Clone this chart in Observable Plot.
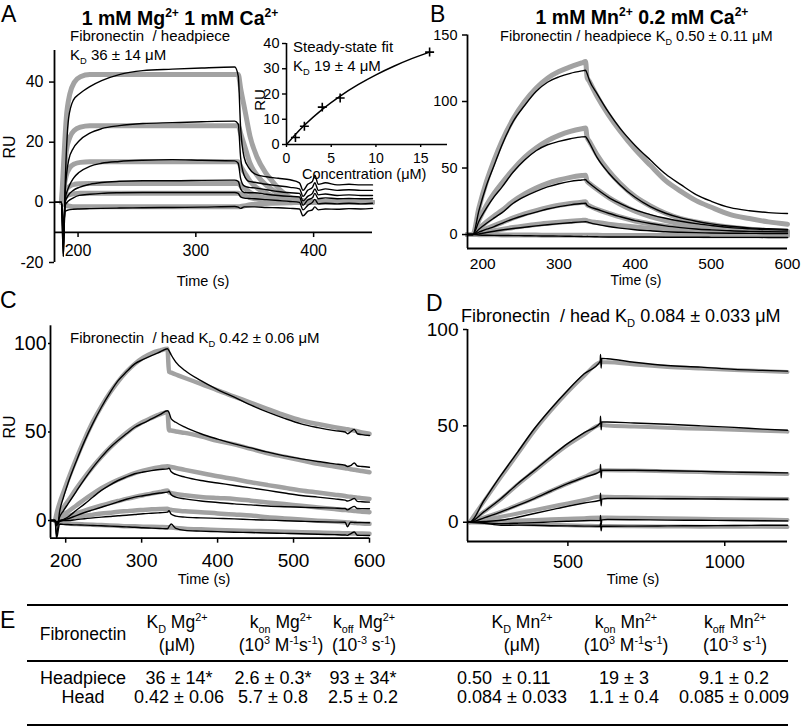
<!DOCTYPE html>
<html><head><meta charset="utf-8">
<script src="https://cdn.jsdelivr.net/npm/d3@7"></script>
<script src="https://cdn.jsdelivr.net/npm/@observablehq/plot@0.6"></script>
<style>
body{margin:0;background:#fff}
#fig{position:relative;width:802px;height:727px;background:#fff;font-family:"Liberation Sans",Arial,Helvetica,sans-serif;overflow:hidden}
.panel{position:absolute}
.panel svg{overflow:visible}
</style></head><body><div id="fig"></div>
<script>
// ---------------- Panel A : 1 mM Mg2+ 1 mM Ca2+ , headpiece ----------------
const timeA = [180,186,187.5,189,192,196,201,210,220,235,255,280,305,333,336,338,341,345,350,360,370,380,388,391,395,399,401,404,410,420,430,440,450];
const sensorA1 = [0,0,-18,5,28,34,36,38.5,40.5,42.5,43.8,44.3,44.7,45,42,25,15,11.5,9.5,8.5,8,7.5,6.5,4,6,7,9,6,6.5,5.8,6,5.8,5.8];
const sensorA2 = [0,0,-18,3,14,18,20.5,23,24.5,25.5,26.2,26.5,26.8,27,26,15,9,7,6.7,6,5.5,5,4.5,2,4,5,6.5,4,4.5,4,4.2,4,4];
const sensorA3 = [0,0,-15,1,5,8,10,12,13,13.6,14,14.2,14,13.8,13,8,5.5,5,4.8,4.2,3.6,3.2,3,0.5,2,3,4.5,2.5,2.8,2.3,2.5,2.3,2.3];
const sensorA4 = [0,0,-12,0,2.5,4,5,6,6.6,7,7.2,7.2,7.3,7.4,7,4.5,3.3,3.2,3.2,2.7,2.3,2,1.8,-1,0.8,1.5,3,1.2,1.5,1.2,1.3,1.2,1.3];
const sensorA5 = [0,0,-10,-1,0.5,1.5,2.3,2.7,3,3.2,3.3,3.3,3.3,3.3,3,1.8,1.4,1.3,1.2,0.9,0.6,0.3,0,-2.5,-1,0,1,-0.5,-0.3,-0.5,-0.3,-0.5,-0.3];
const sensorA6 = [0,0,-8,-3,-2.5,-2.3,-2.2,-2.1,-2,-1.9,-1.8,-1.7,-1.6,-1.4,-1.6,-2,-1.5,-1.5,-1.5,-1.7,-1.8,-2,-2.2,-4.5,-3,-2.5,-1.5,-2.5,-2.2,-2.3,-2.1,-2.2,-2];
const fitTimeA = [186,188,190,193,197,202,210,220,336,338,342,346,352,359,365,372,381,395,420,450];
const fitA1 = [0,15,28,36,40,41.8,42.5,42.5,42.5,38,30,22,15,10,7,4,1.5,0.4,0.1,0];
const fitA2 = [0,9,17,21.6,24,25,25.5,25.5,25.5,23,18,13,9,6,4.2,2.4,1,0.3,0.1,0];
const fitA3 = [0,5,9,11.5,12.8,13.3,13.5,13.5,13.5,12,9.5,7,4.8,3.2,2.2,1.3,0.6,0.2,0.1,0];
const fitA4 = [0,2.3,4.2,5.4,6,6.2,6.3,6.3,6.3,5.6,4.5,3.3,2.2,1.5,1,0.6,0.3,0.1,0,0];
const fitA5 = [0,1.1,2,2.6,2.9,3,3,3,3,2.7,2.1,1.6,1.1,0.7,0.5,0.3,0.1,0,0,0];
const fitA6 = [0,-0.6,-1,-1.3,-1.5,-1.5,-1.5,-1.5,-1.5,-1.4,-1.1,-0.8,-0.6,-0.4,-0.3,-0.2,-0.1,0,0,0];
const xTicksA = [200,300,400];
const yTicksA = [-20,0,20,40];

// inset: steady-state fit
const insetConc = [1,2,4,6,16];
const insetRU = [2.8,7.2,14.8,18.4,36.6];
const insetFitConc = [0,1,2,4,6,8,10,12,14,16];
const insetFitRU = [0,4,7.6,13.9,19.2,23.7,27.6,31,34,36.6];
const insetXTicks = [0,5,10,15];
const insetYTicks = [0,10,20,30,40];

// ---------------- Panel B : 1 mM Mn2+ 0.2 mM Ca2+ , headpiece ----------------
const timeB = [180,187,195,205,215,225,240,255,270,285,300,315,330,335,337,340,350,365,380,400,420,440,460,480,500,525,550,575,600];
const sensorB1 = [0,0,18,37,52,67,85,97,107.5,114.5,118.5,121.2,123,123.5,121,116,106,92,80,67,56,45.5,37.5,30,25,20.2,17.9,16.5,15.8];
const sensorB2 = [0,0,10,20,28.5,35.5,47,56,63,67.5,70,72,73.4,73.5,72,69,58,46.5,37.5,28,21,16,12.5,10,8,6.2,5,4.3,3.8];
const sensorB3 = [0,0,4,8.5,12.5,16.3,23.5,28.5,32.5,35.8,38.2,40,41,41.3,40,38.5,34,28,23.5,18.5,15,12.2,10,8.2,6.8,5.2,4.3,3.7,3.3];
const sensorB4 = [0,0,1.8,4,6,8.4,11.8,14.5,16.8,19.2,21,22.3,23.3,23.5,22,21,19,16,13.5,10.5,8.3,6.5,5.2,4.2,3.5,2.8,2.4,2.2,2];
const sensorB5 = [0,0,0.5,1.5,2.5,3.4,4.5,5.5,6.5,7.4,8.2,8.9,9.5,9.6,9.5,9,7.6,6,4.8,3.6,2.8,2.1,1.7,1.4,1.2,1,0.9,0.8,0.75];
const sensorB6 = [0,0,-0.3,-0.5,-0.6,-0.7,-0.8,-0.9,-1,-1.1,-1.2,-1.3,-1.5,-1.6,-1.5,-1.6,-1.7,-1.8,-1.8,-1.9,-1.9,-2,-2,-2,-2.1,-2.1,-2.1,-2.2,-2.2];
const fitB1 = [0,0,20,40,56,70,87,100,110,117.5,122.5,126,129,130,118,115,104,90,78,64,52,40.5,32.5,25.5,20.5,15,12,9.5,7.8];
const fitB2 = [0,0,11,22,31,38.5,49,58,65,70.5,74.5,77.5,79.5,80,73,70,60,48,38.5,28.5,21.5,16,12,9.5,7.5,5.5,4,3,2.5];
const fitB3 = [0,0,4.5,9.5,14,18,25,30.5,35,38.5,41,43,44.3,44.6,40,38.5,34,28,23,17.5,13.5,10.5,8,6.3,5,3.8,3,2.4,2];
const fitB4 = [0,0,2,4.5,6.8,9,12.5,15.5,18,20.2,22,23.3,24.3,24.6,22.5,21.5,19,16,13.2,10.2,8,6.2,4.8,3.8,3,2.3,1.8,1.4,1.1];
const fitB5 = [0,0,0.6,1.8,2.9,3.9,5.3,6.5,7.6,8.5,9.3,10,10.6,10.8,10.3,9.9,9,7.8,6.8,5.6,4.6,3.8,3.1,2.6,2.1,1.7,1.4,1.1,0.9];
const fitB6 = [0,0,-0.1,-0.2,-0.2,-0.3,-0.3,-0.4,-0.4,-0.5,-0.5,-0.5,-0.6,-0.6,-0.6,-0.6,-0.6,-0.7,-0.7,-0.7,-0.8,-0.8,-0.8,-0.8,-0.9,-0.9,-0.9,-1,-1];
const xTicksB = [200,300,400,500,600];
const yTicksB = [0,50,100,150];

// ---------------- Panel C : Mg2+ , head ----------------
const timeC = [180,186,188,192,197,203,214,225,236,247,258,269,280,291,302,313,324,334,336,339,345,357,378,400,422,444,466,488,510,532,554,568,571,575,580,584,590,600];
const sensorC1 = [0,0,-8,5,13,21,33.5,45,55,64,72,79,84,88.5,91,93.2,95.2,97,96,93.5,89.5,84.7,79,74,69.7,65.2,61.2,57.7,54.6,52.5,50.8,50,49,50,51.5,49,48.5,48];
const sensorC2 = [0,0,-3,2,5.5,9.4,16.5,23.5,30,35.8,41,45.2,49,52.7,55,57.4,59.8,62,61,57.4,55.5,52.7,49,46,43.3,41,38.6,36.5,34.8,33.3,32,31.2,30.5,31,32.5,30.8,30.5,30.1];
const sensorC3 = [0,0,-2,-0.5,0.5,2,5.8,9.4,13.3,17,20,22.6,24.6,26.4,27.4,28.2,28.8,29.2,29.5,27.5,26,24.5,22.6,21.2,19.8,18.4,17,15.5,14.1,13.2,12.2,11.5,11,11.5,12.5,10.8,10.6,10.4];
const sensorC4 = [0,0,-1,0,0.5,1,2.8,4.5,6,7.5,9,10.5,12,13.2,14,14.8,15.5,16,16.5,14.5,13.2,12.2,11,10.2,9.4,8.8,8.2,7.8,7.5,7.2,7,6.8,6,7,8,6.8,6.7,6.6];
const sensorC5 = [0,0,-1,-0.5,0,0,0.5,1,1.5,1.9,2.3,2.7,3,3.4,3.8,4.1,4.4,4.7,5.5,3.5,2.5,1.9,1.5,1.2,0.9,0.5,0.2,-0.1,-0.4,-0.7,-0.9,-1,-3.5,-1,-1.1,-1.2,-1.2,-1.3];
const sensorC6 = [0,0,-10,-2,-2.2,-2.3,-2.5,-2.6,-2.8,-3,-3.2,-3.4,-3.6,-3.8,-4.1,-4.3,-4.5,-4.7,-3.5,-2,-4.5,-5.6,-6,-6.3,-6.6,-6.8,-7.1,-7.3,-7.5,-7.8,-8,-8.2,-8.4,-7.5,-6.5,-8.3,-8.4,-8.5];
const fitC1 = [null,0,4,10,16,23,35,46,56,64.5,72,78.5,84,88.5,92,94.5,96,97,84,83.5,82.5,80.5,77.2,73.5,70,66.5,63,59.5,56.5,54.5,52.7,51.7,51.5,51.2,50.8,50.4,49.8,49];
const fitC2 = [null,0,1.5,4,7.5,11,18,24.5,30.5,36,41,45.5,49.5,53,55.8,58,60,61.2,51,50.8,50.3,49.5,47.5,45,43,40.5,38,36,34,32,30.5,29.5,29.3,29,28.7,28.4,28,27.3];
const fitC3 = [null,0,0.5,2,3.5,5,8.5,12,15.2,18.2,20.8,23,25,26.8,28.2,29.3,30.1,30.7,30.5,30.2,29.7,28.6,26.8,25,23.4,21.6,20,18.5,17,15.8,14.6,13.8,13.6,13.4,13.1,12.9,12.6,12.2];
const fitC4 = [null,0,0.3,1,1.6,2.4,4,5.6,7.1,8.5,9.8,11,12.2,13.3,14.3,15.2,16.1,17,16,15.5,15,14.3,13.3,12.7,12.2,11.2,10.2,9.3,8.3,7.4,6.5,5.9,5.8,5.6,5.4,5.2,5,4.7];
const fitC5 = [null,0,0.2,0.5,0.8,1.2,2,2.7,3.3,3.9,4.4,4.9,5.3,5.7,6,6.3,6.5,6.6,6.3,6,5.6,5.2,4.7,4,3.4,2.8,1.9,1.2,0.5,-0.1,-0.6,-1,-1.1,-1.2,-1.4,-1.5,-1.7,-1.9];
const fitC6 = [null,0,-0.5,-1,-1.4,-1.7,-2,-2.2,-2.4,-2.6,-2.8,-3,-3.2,-3.3,-3.5,-3.6,-3.7,-3.8,-3.9,-4,-4.2,-4.6,-5,-5.3,-5.6,-5.9,-6.1,-6.4,-6.6,-6.8,-7,-7.2,-7.2,-7.3,-7.3,-7.4,-7.4,-7.5];
const xTicksC = [200,300,400,500,600];
const yTicksC = [0,50,100];

// ---------------- Panel D : Mn2+ , head ----------------
const timeD = [180,186,233,287,340,393,446,499,552,603,604,606,608,626,711,817,924,1030,1120,1200];
const sensorD1 = [0,0,11.4,24.4,36.4,48.5,58.9,68.4,77,83.5,87,80,85,84.8,83,81.3,80.5,79.3,78.8,78.4];
const sensorD2 = [0,0,5.5,12.3,20,26.9,34,40.8,46.5,51.5,55,48,52,52,51.5,50.8,50,49.2,48.3,47.7];
const sensorD3 = [0,0,2.3,5.4,8.7,12.3,16.2,20,23.3,26.4,30,23,27,27,27,26.7,26.4,26,25.8,25.6];
const sensorD4 = [0,0,0.4,1,2.6,4.5,6.4,8.3,10,11.4,15,8.5,12,12.3,12.3,12.2,12.1,12,11.9,11.9];
const sensorD5 = [0,0,-0.3,-0.7,-0.5,-0.2,0.2,0.5,0.8,1,3.5,-1.5,1.2,1.4,1.3,1.1,1,0.9,0.8,0.7];
const sensorD6 = [0,0,-0.5,-1.6,-1.5,-1.6,-1.8,-1.9,-2,-2.1,-0.5,-4.5,-2.1,-2.1,-2,-1.9,-1.8,-1.7,-1.6,-1.6];
const fitTimeD = [186,233,287,340,393,446,499,552,605,626,711,817,924,1030,1120,1200];
const fitD1 = [0,11,23.5,35.5,47.5,58,67.5,76,83,83,81.8,80.6,79.8,79,78.5,78];
const fitD2 = [0,5.5,12,19.5,26.5,33.5,40,45.5,50.5,50.2,49.7,49,48.5,48,47.5,47];
const fitD3 = [0,2.5,5.5,9,12.5,16.3,20,23.5,27,27,26.8,26.4,26,25.6,25.3,25];
const fitD4 = [0,1.2,2.8,4.5,6.3,8,9.8,11.5,13.3,13.2,13,12.8,12.6,12.4,12.2,12];
const fitD5 = [0,0.3,0.6,0.9,1.2,1.5,1.8,2.1,2.5,2.5,2.3,2,1.8,1.6,1.4,1.2];
const fitD6 = [0,-0.3,-0.6,-0.9,-1.2,-1.4,-1.6,-1.8,-2,-2,-2.1,-2.2,-2.3,-2.4,-2.4,-2.5];
const xTicksD = [500,1000];
const yTicksD = [0,50,100];

// ---------------- Panel E : table ----------------
const tableHeader1 = ["Fibronectin","K_{D} Mg^{2+}","k_{on} Mg^{2+}","k_{off} Mg^{2+}","K_{D} Mn^{2+}","k_{on} Mn^{2+}","k_{off} Mn^{2+}"];
const tableHeader2 = ["","(μM)","(10^{3} M^{-1}s^{-1})","(10^{-3} s^{-1})","(μM)","(10^{3} M^{-1}s^{-1})","(10^{-3} s^{-1})"];
const rowHeadpiece = ["Headpiece","36 ± 14*","2.6 ± 0.3*","93 ± 34*","0.50  ± 0.11","19 ± 3","9.1 ± 0.2"];
const rowHead = ["Head","0.42 ± 0.06","5.7 ± 0.8","2.5 ± 0.2","0.084 ± 0.033","1.1 ± 0.4","0.085 ± 0.009"];

// ====================================================================
const FONT = '"Liberation Sans", Arial, Helvetica, sans-serif';
const GREY = "#a2a2a2";
const fig = document.getElementById("fig");
const plain = d => String(d);

function tidy(times, series, prefix) {
  const rows = [];
  series.forEach((vals, i) => vals.forEach((v, j) => {
    if (v !== null) rows.push({t: times[j], v, s: prefix + i});
  }));
  return rows;
}
function place(node, left, top) {
  const d = document.createElement("div");
  d.className = "panel";
  d.style.left = left + "px"; d.style.top = top + "px";
  d.appendChild(node); fig.appendChild(d);
}
function curves(fitRows, dataRows, gw) {
  return [
    Plot.line(fitRows, {x: "t", y: "v", z: "s", stroke: GREY, strokeWidth: gw, curve: "monotone-x", strokeLinejoin: "round"}),
    Plot.line(dataRows, {x: "t", y: "v", z: "s", stroke: "black", strokeWidth: 1.4, curve: "monotone-x", strokeLinejoin: "round"})
  ];
}
const baseStyle = {fontFamily: FONT, background: "transparent", overflow: "visible", color: "black"};

// ---- Panel A ----
{
  const data = tidy(timeA, [sensorA1, sensorA2, sensorA3, sensorA4, sensorA5, sensorA6], "a");
  const fit = tidy(fitTimeA, [fitA1, fitA2, fitA3, fitA4, fitA5, fitA6], "g");
  const p = Plot.plot({
    width: 400, height: 300, marginLeft: 54, marginRight: 28, marginTop: 50, marginBottom: 38,
    x: {domain: [180, 450], axis: null}, y: {domain: [-20, 50.5]},
    style: baseStyle,
    marks: [
      ...curves(fit, data, 5),
      Plot.ruleX([180], {x: d => d, y1: -20, y2: 50.5, strokeWidth: 1.8}),
      Plot.ruleY([-10], {y: d => d, x1: 180, x2: 450, strokeWidth: 1.8}),
      Plot.ruleX(xTicksA, {x: d => d, y1: -10, y2: -11.7, strokeWidth: 1.5}),
      Plot.text(xTicksA, {x: d => d, y: -10, dy: 18.5, text: plain, fontSize: 16}),
      Plot.axisY({ticks: yTicksA, tickSize: 5, tickPadding: 6, fontSize: 16, label: null, strokeWidth: 1.5, tickFormat: plain})
    ]
  });
  place(p, 0, 0);
}
// ---- Inset ----
{
  const fitRows = insetFitConc.map((c, i) => ({c, r: insetFitRU[i]}));
  const pts = insetConc.map((c, i) => ({c, r: insetRU[i]}));
  const p = Plot.plot({
    width: 210, height: 160, marginLeft: 46, marginRight: 3, marginTop: 13, marginBottom: 46,
    x: {domain: [0, 18]}, y: {domain: [0, 40]},
    style: baseStyle,
    marks: [
      Plot.line(fitRows, {x: "c", y: "r", stroke: "black", strokeWidth: 1.5, curve: "monotone-x"}),
      Plot.dot(pts, {x: "c", y: "r", symbol: "plus", r: 3, stroke: "black", strokeWidth: 1.6}),
      Plot.ruleX([0], {x: d => d, y1: 0, y2: 40, strokeWidth: 1.6}),
      Plot.ruleY([0], {y: d => d, x1: 0, x2: 18, strokeWidth: 1.6}),
      Plot.axisY({ticks: insetYTicks, tickSize: 4, tickPadding: 3, fontSize: 14.5, label: null, strokeWidth: 1.4, tickFormat: plain}),
      Plot.axisX({ticks: insetXTicks, tickSize: 3, tickPadding: 6, fontSize: 14, label: null, strokeWidth: 1.4, tickFormat: plain})
    ]
  });
  place(p, 240, 30);
}
// ---- Panel B ----
{
  const data = tidy(timeB, [sensorB1, sensorB2, sensorB3, sensorB4, sensorB5, sensorB6], "a");
  const fit = tidy(timeB, [fitB1, fitB2, fitB3, fitB4, fitB5, fitB6], "g");
  const p = Plot.plot({
    width: 402, height: 300, marginLeft: 67, marginRight: 15, marginTop: 34.5, marginBottom: 52,
    x: {domain: [180, 600]}, y: {domain: [-10.5, 150]},
    style: baseStyle,
    marks: [
      ...curves(fit, data, 5),
      Plot.ruleX([180], {x: d => d, y1: -10.5, y2: 150, strokeWidth: 1.8}),
      Plot.ruleY([-10.5], {y: d => d, x1: 180, x2: 600, strokeWidth: 1.8}),
      Plot.axisY({ticks: yTicksB, tickSize: 5, tickPadding: 5, fontSize: 14.5, label: null, strokeWidth: 1.5, tickFormat: plain}),
      Plot.axisX({ticks: xTicksB, tickSize: 0, tickPadding: 9, fontSize: 15.5, label: null, tickFormat: plain})
    ]
  });
  place(p, 400, 0);
}
// ---- Panel C ----
{
  const data = tidy(timeC, [sensorC1, sensorC2, sensorC3, sensorC4, sensorC5, sensorC6], "a");
  const fit = tidy(timeC, [fitC1, fitC2, fitC3, fitC4, fitC5, fitC6], "g");
  const p = Plot.plot({
    width: 400, height: 300, marginLeft: 50, marginRight: 31, marginTop: 35.3, marginBottom: 52.3,
    x: {domain: [180, 600]}, y: {domain: [-10, 110]},
    style: baseStyle,
    marks: [
      ...curves(fit, data, 4.5),
      Plot.ruleX([180], {x: d => d, y1: -10, y2: 110, strokeWidth: 1.8}),
      Plot.ruleY([-10], {y: d => d, x1: 180, x2: 600, strokeWidth: 1.8}),
      Plot.axisY({ticks: yTicksC, tickSize: 2, tickPadding: 2, fontSize: 19.5, label: null, strokeWidth: 1.5, tickFormat: plain}),
      Plot.axisX({ticks: xTicksC, tickSize: 5, tickPadding: 10, fontSize: 19, label: null, strokeWidth: 1.5, tickFormat: plain})
    ]
  });
  place(p, 0, 290);
}
// ---- Panel D ----
{
  const data = tidy(timeD, [sensorD1, sensorD2, sensorD3, sensorD4, sensorD5, sensorD6], "a");
  const fit = tidy(fitTimeD, [fitD1, fitD2, fitD3, fitD4, fitD5, fitD6], "g");
  const p = Plot.plot({
    width: 402, height: 300, marginLeft: 67, marginRight: 15, marginTop: 39, marginBottom: 49,
    x: {domain: [180, 1200]}, y: {domain: [-10, 100]},
    style: baseStyle,
    marks: [
      ...curves(fit, data, 4),
      Plot.ruleX([180], {x: d => d, y1: -10, y2: 100, strokeWidth: 1.8}),
      Plot.ruleY([-10], {y: d => d, x1: 180, x2: 1200, strokeWidth: 1.8}),
      Plot.axisY({ticks: yTicksD, tickSize: 4, tickPadding: 5, fontSize: 19, label: null, strokeWidth: 1.5, tickFormat: plain}),
      Plot.axisX({ticks: xTicksD, tickSize: 5, tickPadding: 9, fontSize: 18, label: null, strokeWidth: 1.5, tickFormat: plain})
    ]
  });
  place(p, 400, 290);
}

// ---------------- overlay texts ----------------
const ov = d3.create("svg").attr("width", 802).attr("height", 727)
  .style("position", "absolute").style("left", "0px").style("top", "0px")
  .style("pointer-events", "none").style("font-family", FONT);
fig.appendChild(ov.node());

function rich(sel, str, fs) {
  const parts = str.split(/(_\{[^}]*\}|\^\{[^}]*\})/).filter(s => s.length);
  let cur = 0;
  for (const p of parts) {
    let kind = "n", txt = p;
    if (p.startsWith("_{")) { kind = "sub"; txt = p.slice(2, -1); }
    else if (p.startsWith("^{")) { kind = "sup"; txt = p.slice(2, -1); }
    const target = kind === "sub" ? 0.26 * fs : kind === "sup" ? -0.4 * fs : 0;
    const ts = sel.append("tspan").text(txt);
    if (target !== cur) ts.attr("dy", target - cur);
    if (kind !== "n") ts.attr("font-size", 0.62 * fs);
    cur = target;
  }
}
function label(x, y, str, fs, opts = {}) {
  const t = ov.append("text").attr("x", x).attr("y", y).attr("font-size", fs)
    .attr("text-anchor", opts.anchor || "start")
    .attr("font-weight", opts.bold ? "bold" : "normal")
    .style("white-space", "pre").attr("fill", "black");
  if (opts.rotate) t.attr("transform", `rotate(-90 ${x} ${y})`);
  rich(t, str, fs);
  return t;
}
// panel letters
label(1, 22, "A", 23); label(430, 22, "B", 23); label(0, 308, "C", 23); label(426, 311, "D", 23); label(0, 628, "E", 23);
// titles
label(180, 24.5, "1 mM Mg^{2+} 1 mM Ca^{2+}", 19.5, {anchor: "middle", bold: true});
label(642, 23.5, "1 mM Mn^{2+} 0.2 mM Ca^{2+}", 19.5, {anchor: "middle", bold: true});
// subtitles
label(70, 41, "Fibronectin  / headpiece", 15);
label(70, 60, "K_{D} 36 ± 14 μM", 15);
label(293, 52, "Steady-state fit", 15);
label(293, 71, "K_{D} 19 ± 4 μM", 15);
label(500, 41, "Fibronectin / headpiece K_{D} 0.50 ± 0.11 μM", 14.6);
label(70, 343.3, "Fibronectin  / head K_{D} 0.42 ± 0.06 μM", 15);
label(461, 322.3, "Fibronectin  / head K_{D} 0.084 ± 0.033 μM", 18);
// axis titles
label(15, 147, "RU", 16, {anchor: "middle", rotate: true});
label(265, 100, "RU", 15, {anchor: "middle", rotate: true});
label(15, 427, "RU", 16, {anchor: "middle", rotate: true});
label(203, 285.5, "Time (s)", 14.5, {anchor: "middle"});
label(302, 179, "Concentration (μM)", 14.5);
label(636, 284.5, "Time (s)", 14, {anchor: "middle"});
label(204, 584, "Time (s)", 14.5, {anchor: "middle"});
label(633, 584, "Time (s)", 14.5, {anchor: "middle"});

// table
[[605, 2], [661, 1.8], [725, 2]].forEach(([y, w]) =>
  ov.append("line").attr("x1", 27).attr("x2", 788).attr("y1", y).attr("y2", y).attr("stroke", "black").attr("stroke-width", w));
const headCx = [83, 177, 281, 364, 522, 626, 735];
const valCx = [83, 179, 273, 363, 457, 624, 734];
tableHeader1.forEach((s, i) => label(headCx[i], i === 0 ? 640 : 628, s, 17.5, {anchor: "middle"}));
tableHeader2.forEach((s, i) => { if (s) label(headCx[i], 651, s, 17.5, {anchor: "middle"}); });
rowHeadpiece.forEach((s, i) => label(valCx[i], 684, s, 18, {anchor: i === 4 ? "start" : "middle"}));
rowHead.forEach((s, i) => label(valCx[i], 703, s, 18, {anchor: i === 4 ? "start" : "middle"}));
</script></body></html>
